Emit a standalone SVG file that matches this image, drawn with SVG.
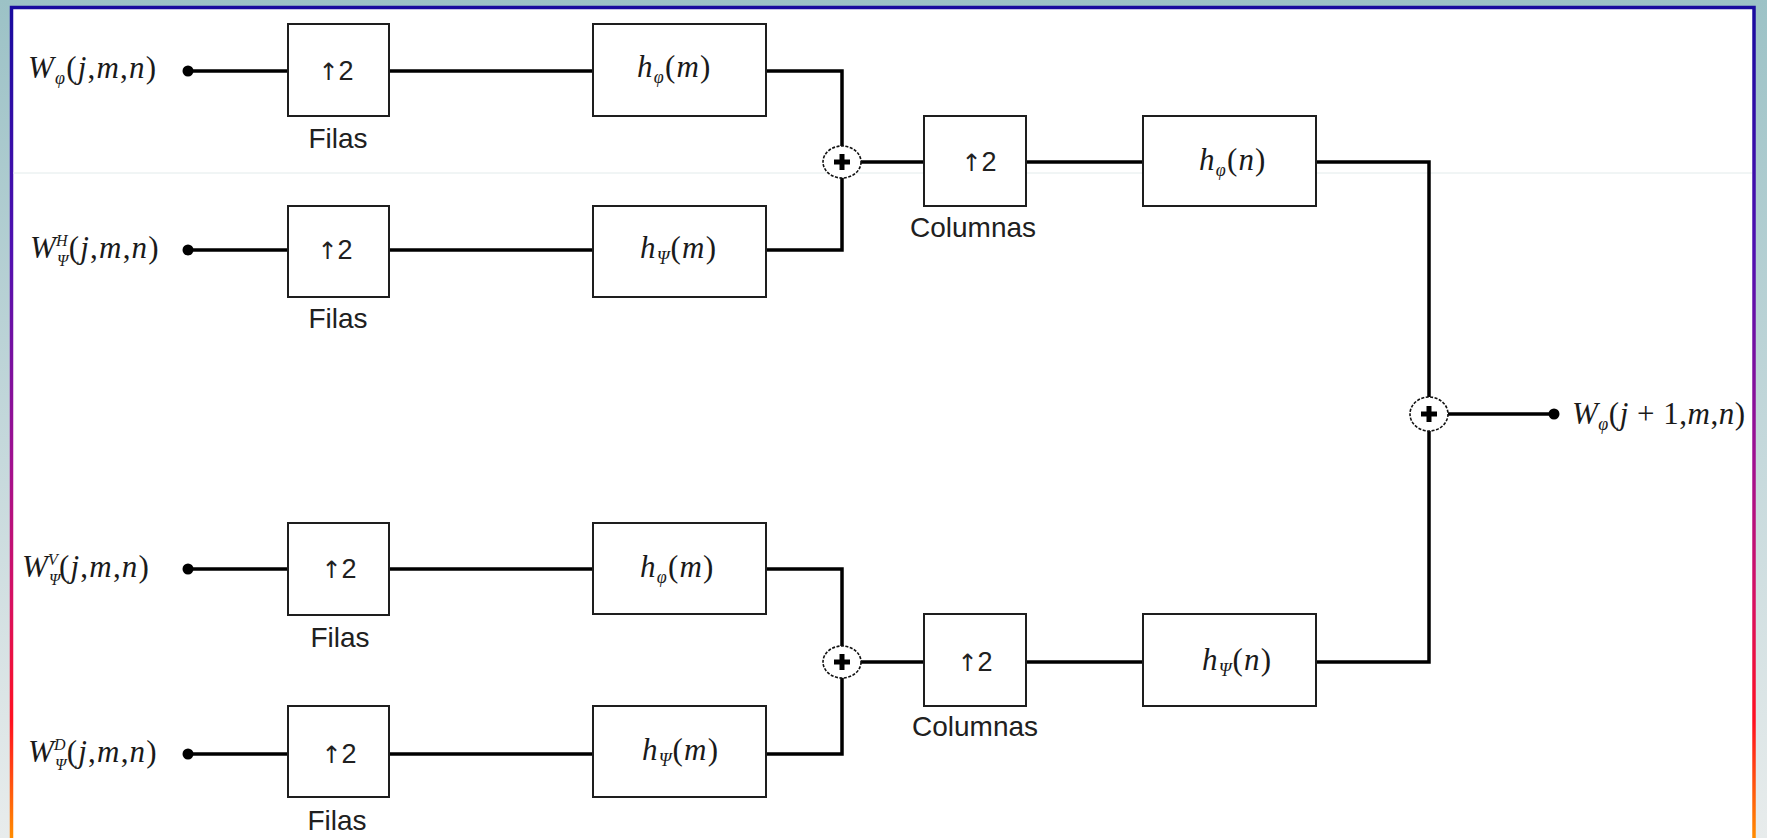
<svg xmlns="http://www.w3.org/2000/svg" width="1767" height="838" viewBox="0 0 1767 838">
  <defs>
    <linearGradient id="bgGrad" x1="0" y1="0" x2="0" y2="838" gradientUnits="userSpaceOnUse">
      <stop offset="0" stop-color="#9cc2c6"/>
      <stop offset="0.55" stop-color="#c6d9dc"/>
      <stop offset="1" stop-color="#e8ecec"/>
    </linearGradient>
    <linearGradient id="frameGrad" x1="0" y1="0" x2="0" y2="838" gradientUnits="userSpaceOnUse">
      <stop offset="0" stop-color="#170b9e"/>
      <stop offset="0.3" stop-color="#5010b0"/>
      <stop offset="0.55" stop-color="#a01090"/>
      <stop offset="0.72" stop-color="#d81060"/>
      <stop offset="0.86" stop-color="#ff1020"/>
      <stop offset="1" stop-color="#ff8c00"/>
    </linearGradient>
  </defs>
  <style>
    .box { fill: #ffffff; stroke: #1e1e1e; stroke-width: 2; }
    .wire { fill: none; stroke: #000000; stroke-width: 3.5; stroke-linejoin: miter; }
    .dot { fill: #000000; }
    .sumring { fill: #ffffff; stroke: #111111; stroke-width: 1.6; stroke-dasharray: 3 1.5; }
    .plus { stroke: #000000; stroke-width: 5; }
    .sans { font-family: "Liberation Sans", Arial, sans-serif; fill: #202020; }
    .up { font-size: 27px; text-anchor: middle; }
    .arrow { font-family: "DejaVu Sans", sans-serif; font-size: 24px; }
    .cap { font-size: 28px; text-anchor: middle; }
    .math { font-family: "Liberation Serif", "Times New Roman", serif; font-size: 31px; fill: #1a1a1a; letter-spacing: 1.2px; }
    .tight { letter-spacing: 0.5px; }
    .it { font-style: italic; }
    .sub { font-size: 18px; font-style: italic; }
    .ss { font-size: 16px; font-style: italic; }
  </style>

  <!-- page background and framed sheet -->
  <rect x="0" y="0" width="1767" height="838" fill="url(#bgGrad)"/>
  <rect x="11.5" y="7.5" width="1742.5" height="845" fill="#ffffff" stroke="url(#frameGrad)" stroke-width="3.5"/>
  <line x1="13" y1="173" x2="1752" y2="173" stroke="#e2ebeb" stroke-width="1"/>

  <!-- connectors -->
  <g id="connectors">
    <!-- row 1 : W_phi -->
    <polyline class="wire" points="188,71 288,71"/>
    <polyline class="wire" points="389,71 593,71"/>
    <polyline class="wire" points="766,71 842,71 842,146"/>
    <!-- row 2 : W_psi^H -->
    <polyline class="wire" points="188,250 288,250"/>
    <polyline class="wire" points="389,250 593,250"/>
    <polyline class="wire" points="766,250 842,250 842,178"/>
    <!-- upper column branch -->
    <polyline class="wire" points="861,162 924,162"/>
    <polyline class="wire" points="1026,162 1143,162"/>
    <polyline class="wire" points="1316,162 1429,162 1429,397"/>
    <!-- row 3 : W_psi^V -->
    <polyline class="wire" points="188,569 288,569"/>
    <polyline class="wire" points="389,569 593,569"/>
    <polyline class="wire" points="766,569 842,569 842,646"/>
    <!-- row 4 : W_psi^D -->
    <polyline class="wire" points="188,754 288,754"/>
    <polyline class="wire" points="389,754 593,754"/>
    <polyline class="wire" points="766,754 842,754 842,678"/>
    <!-- lower column branch -->
    <polyline class="wire" points="861,662 924,662"/>
    <polyline class="wire" points="1026,662 1143,662"/>
    <polyline class="wire" points="1316,662 1429,662 1429,431"/>
    <!-- output -->
    <polyline class="wire" points="1448,414 1554,414"/>
  </g>

  <!-- input terminals and labels -->
  <g id="in-wphi">
    <circle class="dot" cx="188" cy="71" r="5.5"/>
    <text class="math" x="28" y="78"><tspan class="it">W</tspan><tspan class="sub" dy="6">φ</tspan><tspan dy="-6">(</tspan><tspan class="it">j</tspan>,<tspan class="it">m</tspan>,<tspan class="it">n</tspan>)</text>
  </g>
  <g id="in-wpsiH">
    <circle class="dot" cx="188" cy="250" r="5.5"/>
    <text class="math" x="30" y="258"><tspan class="it">W</tspan><tspan class="ss" dy="8">Ψ</tspan><tspan class="ss" dx="-13.5" dy="-20">H</tspan><tspan dy="12">(</tspan><tspan class="it">j</tspan>,<tspan class="it">m</tspan>,<tspan class="it">n</tspan>)</text>
  </g>
  <g id="in-wpsiV">
    <circle class="dot" cx="188" cy="569" r="5.5"/>
    <text class="math" x="22" y="577"><tspan class="it">W</tspan><tspan class="ss" dy="8">Ψ</tspan><tspan class="ss" dx="-13.5" dy="-20">V</tspan><tspan dy="12">(</tspan><tspan class="it">j</tspan>,<tspan class="it">m</tspan>,<tspan class="it">n</tspan>)</text>
  </g>
  <g id="in-wpsiD">
    <circle class="dot" cx="188" cy="754" r="5.5"/>
    <text class="math" x="28" y="762"><tspan class="it">W</tspan><tspan class="ss" dy="8">Ψ</tspan><tspan class="ss" dx="-13.5" dy="-20">D</tspan><tspan dy="12">(</tspan><tspan class="it">j</tspan>,<tspan class="it">m</tspan>,<tspan class="it">n</tspan>)</text>
  </g>

  <!-- row upsamplers (Filas) -->
  <g id="up-row1">
    <rect class="box" x="288" y="24" width="101" height="92"/>
    <text class="sans up" x="336" y="80"><tspan class="arrow">↑</tspan>2</text>
    <text class="sans cap" x="338" y="148">Filas</text>
  </g>
  <g id="up-row2">
    <rect class="box" x="288" y="206" width="101" height="91"/>
    <text class="sans up" x="335" y="259"><tspan class="arrow">↑</tspan>2</text>
    <text class="sans cap" x="338" y="328">Filas</text>
  </g>
  <g id="up-row3">
    <rect class="box" x="288" y="523" width="101" height="92"/>
    <text class="sans up" x="339" y="578"><tspan class="arrow">↑</tspan>2</text>
    <text class="sans cap" x="340" y="647">Filas</text>
  </g>
  <g id="up-row4">
    <rect class="box" x="288" y="706" width="101" height="91"/>
    <text class="sans up" x="339" y="763"><tspan class="arrow">↑</tspan>2</text>
    <text class="sans cap" x="337" y="830">Filas</text>
  </g>

  <!-- row filters -->
  <g id="filt-row1">
    <rect class="box" x="593" y="24" width="173" height="92"/>
    <text class="math" x="637" y="77"><tspan class="it">h</tspan><tspan class="sub" dy="6">φ</tspan><tspan dy="-6">(</tspan><tspan class="it">m</tspan>)</text>
  </g>
  <g id="filt-row2">
    <rect class="box" x="593" y="206" width="173" height="91"/>
    <text class="math" x="640" y="258"><tspan class="it">h</tspan><tspan class="sub" dy="6">Ψ</tspan><tspan dy="-6">(</tspan><tspan class="it">m</tspan>)</text>
  </g>
  <g id="filt-row3">
    <rect class="box" x="593" y="523" width="173" height="91"/>
    <text class="math" x="640" y="577"><tspan class="it">h</tspan><tspan class="sub" dy="6">φ</tspan><tspan dy="-6">(</tspan><tspan class="it">m</tspan>)</text>
  </g>
  <g id="filt-row4">
    <rect class="box" x="593" y="706" width="173" height="91"/>
    <text class="math" x="642" y="760"><tspan class="it">h</tspan><tspan class="sub" dy="6">Ψ</tspan><tspan dy="-6">(</tspan><tspan class="it">m</tspan>)</text>
  </g>

  <!-- first adders -->
  <g id="sum-upper">
    <ellipse class="sumring" cx="842" cy="162" rx="19" ry="16"/>
    <line class="plus" x1="834" y1="162" x2="850" y2="162"/>
    <line class="plus" x1="842" y1="154" x2="842" y2="170"/>
  </g>
  <g id="sum-lower">
    <ellipse class="sumring" cx="842" cy="662" rx="19" ry="16"/>
    <line class="plus" x1="834" y1="662" x2="850" y2="662"/>
    <line class="plus" x1="842" y1="654" x2="842" y2="670"/>
  </g>

  <!-- column upsamplers (Columnas) -->
  <g id="up-col1">
    <rect class="box" x="924" y="116" width="102" height="90"/>
    <text class="sans up" x="979" y="171"><tspan class="arrow">↑</tspan>2</text>
    <text class="sans cap" x="973" y="237">Columnas</text>
  </g>
  <g id="up-col2">
    <rect class="box" x="924" y="614" width="102" height="92"/>
    <text class="sans up" x="975" y="671"><tspan class="arrow">↑</tspan>2</text>
    <text class="sans cap" x="975" y="736">Columnas</text>
  </g>

  <!-- column filters -->
  <g id="filt-col1">
    <rect class="box" x="1143" y="116" width="173" height="90"/>
    <text class="math" x="1199" y="170"><tspan class="it">h</tspan><tspan class="sub" dy="6">φ</tspan><tspan dy="-6">(</tspan><tspan class="it">n</tspan>)</text>
  </g>
  <g id="filt-col2">
    <rect class="box" x="1143" y="614" width="173" height="92"/>
    <text class="math" x="1202" y="670"><tspan class="it">h</tspan><tspan class="sub" dy="6">Ψ</tspan><tspan dy="-6">(</tspan><tspan class="it">n</tspan>)</text>
  </g>

  <!-- final adder and output -->
  <g id="sum-out">
    <ellipse class="sumring" cx="1429" cy="414" rx="19" ry="17"/>
    <line class="plus" x1="1421" y1="414" x2="1437" y2="414"/>
    <line class="plus" x1="1429" y1="406" x2="1429" y2="422"/>
  </g>
  <g id="out-wphi">
    <circle class="dot" cx="1554" cy="414" r="5.5"/>
    <text class="math tight" x="1572" y="424"><tspan class="it">W</tspan><tspan class="sub" dy="6">φ</tspan><tspan dy="-6">(</tspan><tspan class="it">j</tspan> + 1,<tspan class="it">m</tspan>,<tspan class="it">n</tspan>)</text>
  </g>
</svg>
